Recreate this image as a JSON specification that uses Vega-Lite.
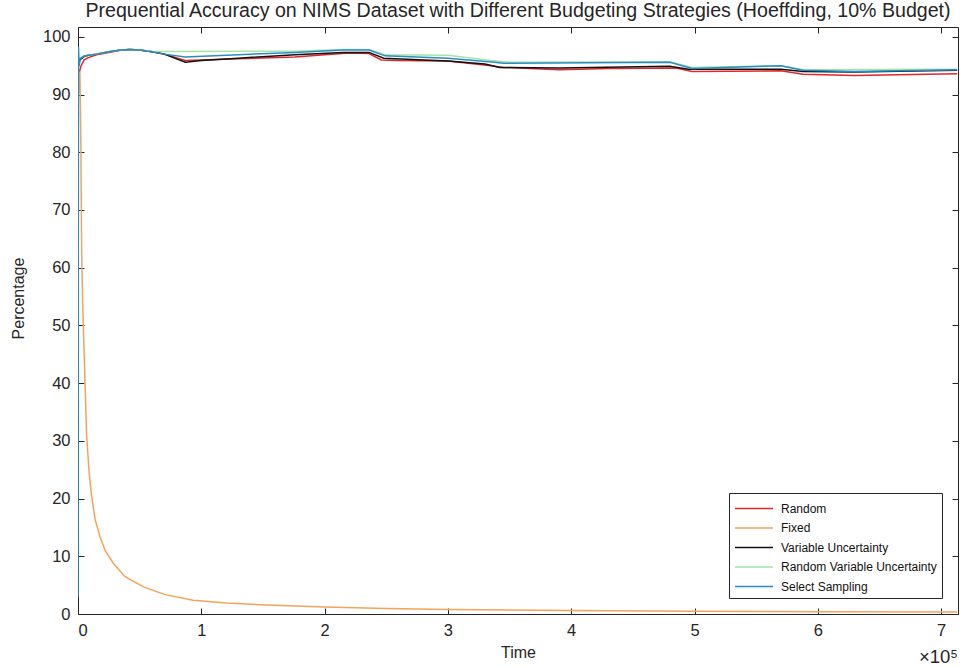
{
  "$schema": "https://vega.github.io/schema/vega-lite/v6.json",
  "width": 880,
  "height": 587,
  "autosize": {"type": "none"},
  "padding": {"left": 78, "top": 27, "right": 4, "bottom": 54},
  "background": "white",
  "title": {
    "text": "Prequential Accuracy on NIMS Dataset with Different Budgeting Strategies (Hoeffding, 10% Budget)",
    "font": "Liberation Sans",
    "fontSize": 19.6,
    "fontWeight": "normal",
    "color": "#262626",
    "anchor": "middle",
    "offset": 5
  },
  "config": {
    "font": "Liberation Sans",
    "view": {"stroke": "#262626", "strokeWidth": 1},
    "axis": {
      "domain": false,
      "grid": false,
      "tickColor": "#262626",
      "tickSize": -6,
      "labelColor": "#262626",
      "labelFontSize": 16.5,
      "labelFont": "Liberation Sans",
      "titleColor": "#262626",
      "titleFont": "Liberation Sans",
      "titleFontSize": 16,
      "titleFontWeight": "normal"
    }
  },
  "datasets": {
    "acc": [
      {"s": "Random", "t": 0, "v": 91.0},
      {"s": "Random", "t": 1000, "v": 93.8},
      {"s": "Random", "t": 2500, "v": 95.0},
      {"s": "Random", "t": 5000, "v": 96.0},
      {"s": "Random", "t": 8400, "v": 96.4},
      {"s": "Random", "t": 15000, "v": 96.9},
      {"s": "Random", "t": 25000, "v": 97.3},
      {"s": "Random", "t": 35000, "v": 97.7},
      {"s": "Random", "t": 42000, "v": 97.8},
      {"s": "Random", "t": 50000, "v": 97.7},
      {"s": "Random", "t": 60000, "v": 97.4},
      {"s": "Random", "t": 70000, "v": 97.0},
      {"s": "Random", "t": 87000, "v": 95.9},
      {"s": "Random", "t": 100000, "v": 96.0},
      {"s": "Random", "t": 130000, "v": 96.2},
      {"s": "Random", "t": 176000, "v": 96.5},
      {"s": "Random", "t": 200000, "v": 96.9},
      {"s": "Random", "t": 220000, "v": 97.2},
      {"s": "Random", "t": 236000, "v": 97.1},
      {"s": "Random", "t": 246000, "v": 96.0},
      {"s": "Random", "t": 260000, "v": 95.9},
      {"s": "Random", "t": 300000, "v": 95.8},
      {"s": "Random", "t": 335000, "v": 95.0},
      {"s": "Random", "t": 345000, "v": 94.7},
      {"s": "Random", "t": 390000, "v": 94.3},
      {"s": "Random", "t": 430000, "v": 94.5},
      {"s": "Random", "t": 485000, "v": 94.6},
      {"s": "Random", "t": 498000, "v": 94.0},
      {"s": "Random", "t": 570000, "v": 94.1},
      {"s": "Random", "t": 588000, "v": 93.5},
      {"s": "Random", "t": 630000, "v": 93.3},
      {"s": "Random", "t": 713000, "v": 93.6},

      {"s": "Fixed", "t": 300, "v": 90.0},
      {"s": "Fixed", "t": 1500, "v": 94.0},
      {"s": "Fixed", "t": 2200, "v": 84.0},
      {"s": "Fixed", "t": 3000, "v": 62.0},
      {"s": "Fixed", "t": 4000, "v": 52.0},
      {"s": "Fixed", "t": 5700, "v": 40.0},
      {"s": "Fixed", "t": 7000, "v": 31.0},
      {"s": "Fixed", "t": 9000, "v": 24.5},
      {"s": "Fixed", "t": 11100, "v": 20.3},
      {"s": "Fixed", "t": 14000, "v": 16.3},
      {"s": "Fixed", "t": 17800, "v": 13.4},
      {"s": "Fixed", "t": 22000, "v": 11.0},
      {"s": "Fixed", "t": 28600, "v": 8.8},
      {"s": "Fixed", "t": 38000, "v": 6.5},
      {"s": "Fixed", "t": 53000, "v": 4.7},
      {"s": "Fixed", "t": 70000, "v": 3.4},
      {"s": "Fixed", "t": 93300, "v": 2.4},
      {"s": "Fixed", "t": 120000, "v": 1.9},
      {"s": "Fixed", "t": 147600, "v": 1.6},
      {"s": "Fixed", "t": 200000, "v": 1.2},
      {"s": "Fixed", "t": 250000, "v": 0.95},
      {"s": "Fixed", "t": 300000, "v": 0.8},
      {"s": "Fixed", "t": 400000, "v": 0.6},
      {"s": "Fixed", "t": 500000, "v": 0.48},
      {"s": "Fixed", "t": 600000, "v": 0.4},
      {"s": "Fixed", "t": 713000, "v": 0.34},

      {"s": "Variable Uncertainty", "t": 0, "v": 94.5},
      {"s": "Variable Uncertainty", "t": 1500, "v": 96.0},
      {"s": "Variable Uncertainty", "t": 5000, "v": 96.6},
      {"s": "Variable Uncertainty", "t": 8400, "v": 96.8},
      {"s": "Variable Uncertainty", "t": 15000, "v": 97.0},
      {"s": "Variable Uncertainty", "t": 25000, "v": 97.4},
      {"s": "Variable Uncertainty", "t": 35000, "v": 97.7},
      {"s": "Variable Uncertainty", "t": 42000, "v": 97.8},
      {"s": "Variable Uncertainty", "t": 50000, "v": 97.7},
      {"s": "Variable Uncertainty", "t": 60000, "v": 97.4},
      {"s": "Variable Uncertainty", "t": 70000, "v": 97.0},
      {"s": "Variable Uncertainty", "t": 87000, "v": 95.6},
      {"s": "Variable Uncertainty", "t": 100000, "v": 95.9},
      {"s": "Variable Uncertainty", "t": 130000, "v": 96.3},
      {"s": "Variable Uncertainty", "t": 176000, "v": 96.9},
      {"s": "Variable Uncertainty", "t": 215000, "v": 97.3},
      {"s": "Variable Uncertainty", "t": 236000, "v": 97.3},
      {"s": "Variable Uncertainty", "t": 248000, "v": 96.3},
      {"s": "Variable Uncertainty", "t": 300000, "v": 95.8},
      {"s": "Variable Uncertainty", "t": 330000, "v": 95.3},
      {"s": "Variable Uncertainty", "t": 342000, "v": 94.7},
      {"s": "Variable Uncertainty", "t": 390000, "v": 94.6},
      {"s": "Variable Uncertainty", "t": 480000, "v": 94.9},
      {"s": "Variable Uncertainty", "t": 495000, "v": 94.4},
      {"s": "Variable Uncertainty", "t": 570000, "v": 94.4},
      {"s": "Variable Uncertainty", "t": 588000, "v": 94.0},
      {"s": "Variable Uncertainty", "t": 630000, "v": 93.9},
      {"s": "Variable Uncertainty", "t": 713000, "v": 94.2},

      {"s": "Random Variable Uncertainty", "t": 0, "v": 95.0},
      {"s": "Random Variable Uncertainty", "t": 1500, "v": 96.3},
      {"s": "Random Variable Uncertainty", "t": 5000, "v": 96.7},
      {"s": "Random Variable Uncertainty", "t": 8400, "v": 96.8},
      {"s": "Random Variable Uncertainty", "t": 15000, "v": 97.0},
      {"s": "Random Variable Uncertainty", "t": 25000, "v": 97.4},
      {"s": "Random Variable Uncertainty", "t": 35000, "v": 97.7},
      {"s": "Random Variable Uncertainty", "t": 42000, "v": 97.8},
      {"s": "Random Variable Uncertainty", "t": 50000, "v": 97.7},
      {"s": "Random Variable Uncertainty", "t": 60000, "v": 97.5},
      {"s": "Random Variable Uncertainty", "t": 68000, "v": 97.45},
      {"s": "Random Variable Uncertainty", "t": 176000, "v": 97.5},
      {"s": "Random Variable Uncertainty", "t": 215000, "v": 97.8},
      {"s": "Random Variable Uncertainty", "t": 236000, "v": 97.8},
      {"s": "Random Variable Uncertainty", "t": 249000, "v": 96.9},
      {"s": "Random Variable Uncertainty", "t": 300000, "v": 96.8},
      {"s": "Random Variable Uncertainty", "t": 335000, "v": 95.9},
      {"s": "Random Variable Uncertainty", "t": 350000, "v": 95.6},
      {"s": "Random Variable Uncertainty", "t": 480000, "v": 95.7},
      {"s": "Random Variable Uncertainty", "t": 498000, "v": 94.7},
      {"s": "Random Variable Uncertainty", "t": 570000, "v": 95.0},
      {"s": "Random Variable Uncertainty", "t": 588000, "v": 94.3},
      {"s": "Random Variable Uncertainty", "t": 713000, "v": 94.4},

      {"s": "Select Sampling", "t": 0, "v": 3.0},
      {"s": "Select Sampling", "t": 400, "v": 98.3},
      {"s": "Select Sampling", "t": 900, "v": 95.0},
      {"s": "Select Sampling", "t": 1800, "v": 96.2},
      {"s": "Select Sampling", "t": 5000, "v": 96.7},
      {"s": "Select Sampling", "t": 8400, "v": 96.8},
      {"s": "Select Sampling", "t": 15000, "v": 97.0},
      {"s": "Select Sampling", "t": 25000, "v": 97.4},
      {"s": "Select Sampling", "t": 35000, "v": 97.7},
      {"s": "Select Sampling", "t": 42000, "v": 97.8},
      {"s": "Select Sampling", "t": 50000, "v": 97.7},
      {"s": "Select Sampling", "t": 60000, "v": 97.4},
      {"s": "Select Sampling", "t": 70000, "v": 97.0},
      {"s": "Select Sampling", "t": 87000, "v": 96.5},
      {"s": "Select Sampling", "t": 130000, "v": 96.9},
      {"s": "Select Sampling", "t": 176000, "v": 97.3},
      {"s": "Select Sampling", "t": 215000, "v": 97.7},
      {"s": "Select Sampling", "t": 236000, "v": 97.7},
      {"s": "Select Sampling", "t": 249000, "v": 96.7},
      {"s": "Select Sampling", "t": 300000, "v": 96.3},
      {"s": "Select Sampling", "t": 338000, "v": 95.6},
      {"s": "Select Sampling", "t": 345000, "v": 95.4},
      {"s": "Select Sampling", "t": 480000, "v": 95.6},
      {"s": "Select Sampling", "t": 498000, "v": 94.5},
      {"s": "Select Sampling", "t": 570000, "v": 95.0},
      {"s": "Select Sampling", "t": 588000, "v": 94.2},
      {"s": "Select Sampling", "t": 630000, "v": 94.0},
      {"s": "Select Sampling", "t": 713000, "v": 94.3}
    ],
    "exponent": [{"t": 713700, "v": 0, "txt": "×10⁵"}]
  },
  "layer": [
    {
      "data": {"name": "acc"},
      "mark": {"type": "line", "strokeWidth": 1.5, "clip": true},
      "encoding": {
        "x": {
          "field": "t",
          "type": "quantitative",
          "scale": {"domain": [0, 713700], "nice": false, "zero": false},
          "axis": {
            "orient": "bottom",
            "values": [0, 100000, 200000, 300000, 400000, 500000, 600000, 700000],
            "labelExpr": "datum.value / 100000",
            "labelPadding": 14,
            "title": "Time",
            "titleY": 38,
            "titleBaseline": "middle"
          }
        },
        "y": {
          "field": "v",
          "type": "quantitative",
          "scale": {"domain": [0, 101.7], "nice": false, "zero": false},
          "axis": {
            "orient": "left",
            "values": [0, 10, 20, 30, 40, 50, 60, 70, 80, 90, 100],
            "labelPadding": 14,
            "title": "Percentage",
            "titleX": -52,
            "titleY": 271
          }
        },
        "color": {
          "field": "s",
          "type": "nominal",
          "scale": {
            "domain": ["Random", "Fixed", "Variable Uncertainty", "Random Variable Uncertainty", "Select Sampling"],
            "range": ["#e3262a", "#f4a35a", "#111111", "#a6e3a8", "#2b8cc4"]
          },
          "legend": {
            "title": null,
            "orient": "bottom-right",
            "offset": 16,
            "strokeColor": "#262626",
            "fillColor": "white",
            "padding": 5,
            "symbolType": "M-1,0H3",
            "symbolStrokeWidth": 1.5,
            "symbolSize": 361,
            "labelFontSize": 12,
            "labelLimit": 300,
            "labelColor": "#111111",
            "labelFont": "Liberation Sans",
            "labelOffset": 26,
            "rowPadding": 2.5
          }
        }
      }
    },
    {
      "data": {"name": "exponent"},
      "mark": {"type": "text", "align": "right", "baseline": "middle", "dy": 43, "fontSize": 18.5, "color": "#262626", "font": "Liberation Sans"},
      "encoding": {
        "x": {
          "field": "t",
          "type": "quantitative",
          "scale": {"domain": [0, 713700], "nice": false, "zero": false},
          "axis": {
            "orient": "top",
            "values": [0, 100000, 200000, 300000, 400000, 500000, 600000, 700000],
            "labels": false,
            "title": null
          }
        },
        "y": {
          "field": "v",
          "type": "quantitative",
          "scale": {"domain": [0, 101.7], "nice": false, "zero": false},
          "axis": {
            "orient": "right",
            "values": [0, 10, 20, 30, 40, 50, 60, 70, 80, 90, 100],
            "labels": false,
            "title": null
          }
        },
        "text": {"field": "txt"}
      }
    }
  ],
  "resolve": {"axis": {"x": "independent", "y": "independent"}}
}
